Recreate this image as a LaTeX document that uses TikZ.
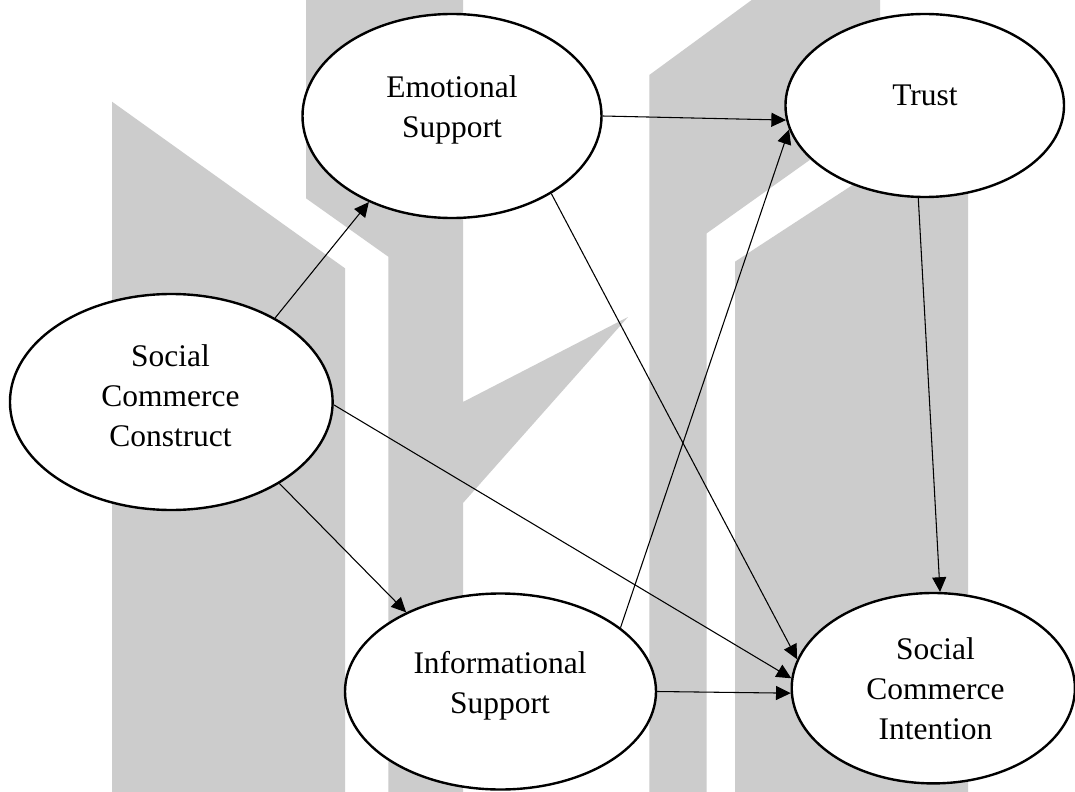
\documentclass[tikz,border=0pt]{standalone}
\usepackage{fontspec}
\setmainfont{Liberation Serif}
\usetikzlibrary{arrows.meta,shapes.geometric}
\definecolor{wm}{RGB}{204,204,204}
\begin{document}
\begin{tikzpicture}[x=0.75pt,y=-0.75pt,
  ell/.style={ellipse, draw, line width=1.8pt, fill=white, inner sep=0pt},
  txt/.style={align=center, inner sep=0pt, font=\fontsize{23.6}{30}\selectfont},
  conn/.style={line width=0.8pt, -{Triangle[length=11pt,width=10.5pt]}},
  wmark/.style={fill=wm}]
\fill[white] (0,0) rectangle (1075,792);
\useasboundingbox (0,0) rectangle (1075,792);
% watermark
\fill[wmark] (112,101.7) -- (345,268.3) -- (345,792) -- (112,792) -- cycle;
\fill[wmark] (306,0) -- (463,0) -- (463,402) -- (628,317) -- (463,503) -- (463,792) -- (388.3,792) -- (388.3,256.7) -- (306,198.3) -- cycle;
\fill[wmark] (751.7,0) -- (880,0) -- (880,110) -- (706.7,233.3) -- (706.7,792) -- (649.3,792) -- (649.3,75) -- cycle;
\fill[wmark] (735,261.7) -- (850,186.7) -- (968,110) -- (968,792) -- (735,792) -- cycle;
% nodes
\node[ell, minimum width=224.25pt, minimum height=153pt] (es) at (452,116) {};
\node[txt] (est) at (452,109.7) {Emotional\\Support};
\node[ell, minimum width=208.9pt, minimum height=137.25pt] (tr) at (924.75,105.5) {};
\node[txt] (trt) at (925,95.5) {Trust};
\node[ell, minimum width=242pt, minimum height=162pt] (scc) at (171.3,402) {};
\node[txt] (scct) at (170.5,396.2) {Social\\Commerce\\Construct};
\node[ell, minimum width=233.25pt, minimum height=147pt] (is) at (500.5,691.5) {};
\node[txt] (ist) at (500,686) {Informational\\Support};
\node[ell, minimum width=212.4pt, minimum height=142.8pt] (sci) at (933.3,688.2) {};
\node[txt] (scit) at (935.5,689.2) {Social\\Commerce\\Intention};
% connectors
\draw[conn] (scc.39) -- (es.-134);
\draw[conn] (es.0) -- (tr.186.4);
\draw[conn] (is.28.4) -- (tr.190.2);
\draw[conn] (es.-38.3) -- (sci.168.4);
\draw[conn] (scc.-1.6) -- (sci.176.9);
\draw[conn] (is.-0.55) -- (sci.182.7);
\draw[conn] (tr.266.8) -- (sci.86);
\draw[conn] (scc.-37.5) -- (is.140.8);
\end{tikzpicture}
\end{document}
